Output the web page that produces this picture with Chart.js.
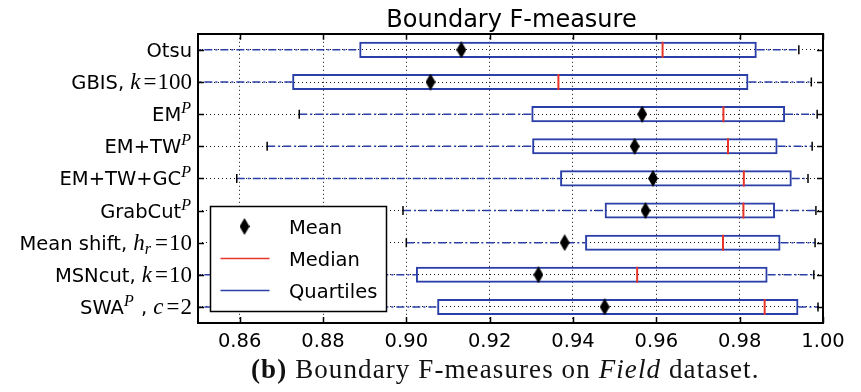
<!DOCTYPE html>
<html><head><meta charset="utf-8">
<script src="https://cdn.jsdelivr.net/npm/chart.js@4/dist/chart.umd.min.js"></script>
<style>
html,body{margin:0;padding:0;background:#fff;}
#wrap{position:relative;width:861px;height:392px;overflow:hidden;}
#c{position:absolute;left:0;top:0;}
#cap{position:absolute;left:251px;top:356px;font-family:"Liberation Serif",serif;font-size:27px;line-height:27px;letter-spacing:1.1px;color:#111;white-space:nowrap;}
</style></head><body>
<div id="wrap"><canvas id="c" width="861" height="392"></canvas><div id="cap"><b>(b)</b> Boundary F-measures on <i>Field</i> dataset.</div></div>
<script>
// ---- data ----
const categories = ["Otsu","GBIS, $k=100$","EM$^P$","EM+TW$^P$","EM+TW+GC$^P$","GrabCut$^P$","Mean shift, $h_r=10$","MSNcut, $k=10$","SWA$^P$ , $c=2$"];
const whiskerLow  = [0.840,0.840,0.8743,0.8666,0.8593,0.8992,0.9000,0.840,0.840];
const q1          = [0.8887,0.8726,0.9300,0.9302,0.9369,0.9476,0.9429,0.9023,0.9074];
const median      = [0.9615,0.9365,0.9761,0.9772,0.9810,0.9809,0.9760,0.9554,0.9860];
const q3          = [0.9841,0.9821,0.9909,0.9891,0.9925,0.9885,0.9898,0.9867,0.9941];
const whiskerHigh = [0.9942,0.9972,0.9986,0.9974,0.9964,0.9983,0.9981,0.9978,0.9988];
const mean        = [0.9132,0.9058,0.9566,0.9548,0.9592,0.9574,0.9380,0.9317,0.9476];
const xTicks      = [0.86,0.88,0.90,0.92,0.94,0.96,0.98,1.00];
const xMin = 0.85, xMax = 1.00;
const titleText = "Boundary F-measure";

// ---- styles ----
const BLUE = '#2b3fa8', RED = '#e8352b', BLACK = '#000';
const SANS = '19.5px "DejaVu Sans"';
const TITLE_FONT = '24px "DejaVu Sans"';
const M_IT = 'italic 23px "Liberation Serif"';
const M_RM = '23px "Liberation Serif"';
const M_IT_S = 'italic 16px "Liberation Serif"';
const M_RM_S = '16px "Liberation Serif"';

function diamond(w,h,color){
  const c=document.createElement('canvas');c.width=w;c.height=h;
  const g=c.getContext('2d');g.fillStyle=color;g.beginPath();
  g.moveTo(w/2,0);g.lineTo(w,h/2);g.lineTo(w/2,h);g.lineTo(0,h/2);g.closePath();g.fill();
  return c;
}
const meanMarker = diamond(10,17,BLACK);

const whiskerData=[];
categories.forEach((c,i)=>{
  whiskerData.push({x:whiskerLow[i],y:c},{x:q1[i],y:c},{x:null,y:c},{x:q3[i],y:c},{x:whiskerHigh[i],y:c},{x:null,y:c});
});
const capData=[];
categories.forEach((c,i)=>{capData.push({x:whiskerLow[i],y:c},{x:whiskerHigh[i],y:c});});

function parseLabel(s){
  const segs=[];const parts=s.split('$');
  parts.forEach((p,k)=>{
    if(k%2===0){ if(p) segs.push({t:p,f:SANS,dy:0}); }
    else{
      for(let j=0;j<p.length;j++){
        const ch=p[j];
        if(ch==='^'||ch==='_'){const n=p[++j];segs.push({t:n,f:/[A-Za-z]/.test(n)?M_IT_S:M_RM_S,dy:ch==='^'?-8:4,pr:1});}
        else if(/[A-Za-z]/.test(ch)) segs.push({t:ch,f:M_IT,dy:0});
        else if(ch==='=') segs.push({t:ch,f:M_RM,dy:0,pl:3,pr:1});
        else segs.push({t:ch,f:M_RM,dy:0});
      }
    }
  });
  return segs;
}

const yLabelPlugin={id:'yLabels',afterDraw(chart){
  const ctx=chart.ctx,ys=chart.scales.y,area=chart.chartArea;
  ctx.save();ctx.fillStyle=BLACK;ctx.textBaseline='alphabetic';ctx.textAlign='left';
  categories.forEach((lab,i)=>{
    const segs=parseLabel(lab);let w=0;
    segs.forEach(s=>{ctx.font=s.f;s.w=ctx.measureText(s.t).width+(s.pl||0)+(s.pr||0);w+=s.w;});
    let x=area.left-6-w;const base=ys.getPixelForValue(i)+7;
    segs.forEach(s=>{ctx.font=s.f;ctx.fillText(s.t,x+(s.pl||0),base+s.dy);x+=s.w;});
  });
  // title centred over the plot area
  ctx.font=TITLE_FONT;ctx.textAlign='center';ctx.textBaseline='alphabetic';
  ctx.fillText(titleText,(area.left+area.right)/2+1,27);
  ctx.restore();
}};

const framePlugin={id:'frame',afterDatasetsDraw(chart){
  const ctx=chart.ctx,a=chart.chartArea,xs=chart.scales.x,ys=chart.scales.y;
  ctx.save();ctx.strokeStyle=BLACK;ctx.lineWidth=1.5;
  xs.ticks.forEach(t=>{const px=Math.round(xs.getPixelForValue(t.value))+0.5;
    ctx.beginPath();ctx.moveTo(px,a.top);ctx.lineTo(px,a.top+6);ctx.moveTo(px,a.bottom);ctx.lineTo(px,a.bottom-6);ctx.stroke();});
  ys.ticks.forEach((t,i)=>{const py=Math.round(ys.getPixelForValue(i))+0.5;
    ctx.beginPath();ctx.moveTo(a.left,py);ctx.lineTo(a.left+6,py);ctx.moveTo(a.right,py);ctx.lineTo(a.right-6,py);ctx.stroke();});
  ctx.lineWidth=2;ctx.strokeRect(Math.round(a.left),Math.round(a.top),Math.round(a.right-a.left),Math.round(a.bottom-a.top));
  // legend
  const L=Math.round(a.left+11.5)+0.5,B=Math.round(a.bottom-12)+0.5,W=176,H=105,T=B-H;
  ctx.fillStyle='#fff';ctx.fillRect(L,T,W,H);ctx.lineWidth=1.5;ctx.strokeRect(L,T,W,H);
  const items=chart.data.datasets.filter(d=>d.legendKind);
  items.forEach((d,k)=>{
    const cy=T+20+k*32;
    if(d.legendKind==='marker'){ctx.drawImage(meanMarker,L+34-5,cy-8.5);}
    else{ctx.strokeStyle=d.legendColor;ctx.lineWidth=1.5;ctx.beginPath();ctx.moveTo(L+10,cy);ctx.lineTo(L+59,cy);ctx.stroke();}
    ctx.fillStyle=BLACK;ctx.font=SANS;ctx.textBaseline='alphabetic';ctx.textAlign='left';ctx.fillText(d.label,L+78.5,cy+7);
  });
  ctx.restore();
}};

new Chart(document.getElementById('c'),{
  type:'bar',
  data:{labels:categories,datasets:[
    {type:'line',label:'Mean',legendKind:'marker',data:categories.map((c,i)=>({x:mean[i],y:c})),indexAxis:'y',showLine:false,
     pointStyle:meanMarker,pointRadius:8,order:0},
    {type:'line',label:'Median',legendKind:'line',legendColor:RED,data:categories.map((c,i)=>({x:median[i],y:c})),indexAxis:'y',showLine:false,
     pointStyle:'line',pointRotation:90,pointRadius:8,pointBorderWidth:2,pointBorderColor:RED,pointBackgroundColor:RED,order:1},
    {type:'line',label:'Caps',data:capData,indexAxis:'y',showLine:false,
     pointStyle:'line',pointRotation:90,pointRadius:4.5,pointBorderWidth:1.5,pointBorderColor:BLACK,order:2},
    {type:'line',label:'Whiskers',data:whiskerData,indexAxis:'y',spanGaps:false,borderColor:BLUE,borderWidth:1.5,
     borderDash:[8,3,2,3],pointRadius:0,fill:false,order:3},
    {type:'bar',label:'Quartiles',legendKind:'line',legendColor:BLUE,data:categories.map((c,i)=>[q1[i],q3[i]]),
     backgroundColor:'rgba(0,0,0,0)',borderColor:BLUE,borderWidth:2,borderSkipped:false,barPercentage:0.5,categoryPercentage:1,order:4}
  ]},
  options:{
    indexAxis:'y',responsive:false,animation:false,devicePixelRatio:1,
    layout:{padding:{left:0,right:38,top:0,bottom:0}},
    plugins:{legend:{display:false},tooltip:{enabled:false},
      title:{display:true,text:titleText,color:'rgba(0,0,0,0)',font:{family:'DejaVu Sans',size:24,weight:'normal'},padding:{top:3,bottom:2}}},
    scales:{
      x:{type:'linear',min:xMin,max:xMax,
        afterBuildTicks(s){s.ticks=xTicks.map(v=>({value:v}));},
        afterFit(s){s.height=69;},
        ticks:{color:BLACK,font:{family:'DejaVu Sans',size:19.5},padding:7,callback:v=>Number(v).toFixed(2),maxRotation:0,autoSkip:false},
        grid:{color:'#111',lineWidth:1,drawTicks:false},
        border:{display:false,dash:[1,3]}},
      y:{type:'category',offset:true,
        afterFit(s){s.width=198;},
        ticks:{display:false},
        grid:{color:'#111',lineWidth:1,drawTicks:false,offset:false},
        border:{display:false,dash:[1,3]}}
    }
  },
  plugins:[framePlugin,yLabelPlugin]
});
</script>
</body></html>
